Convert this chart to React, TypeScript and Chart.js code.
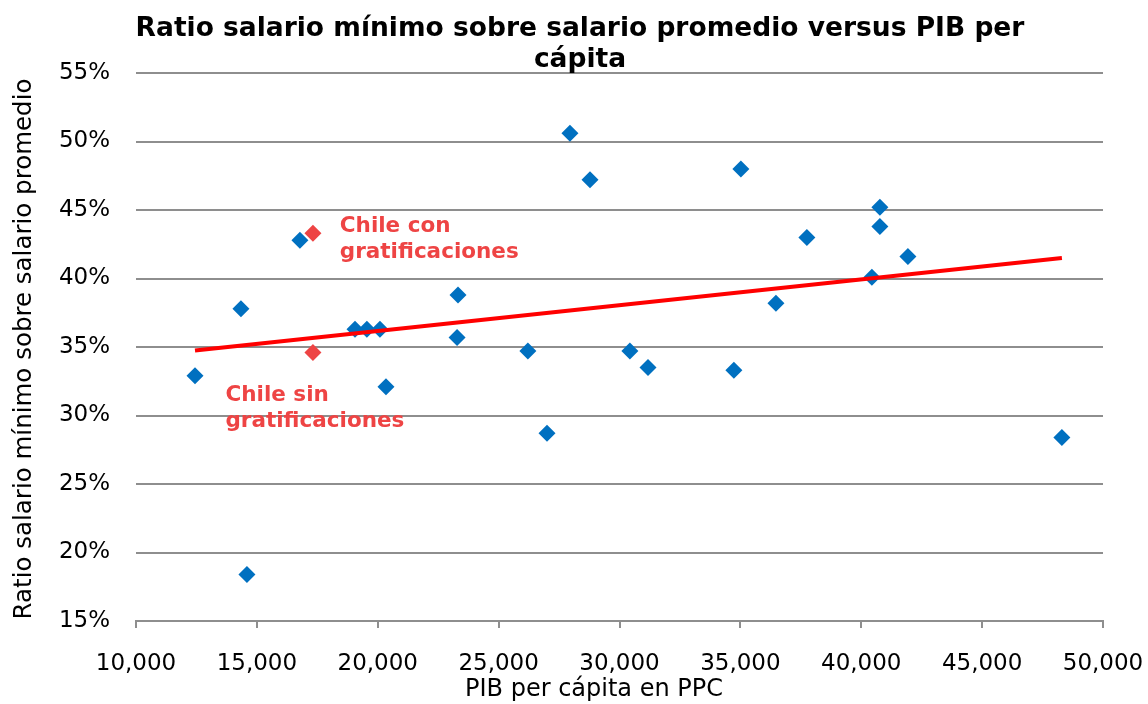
import React, { useEffect, useRef } from "react";
import { Chart, registerables } from "chart.js";

Chart.register(...registerables);

const titleLines = ["Ratio salario mínimo sobre salario promedio versus PIB per", "cápita"];
const xAxisTitle = "PIB per cápita en PPC";
const yAxisTitle = "Ratio salario mínimo sobre salario promedio";

// OECD countries: PIB per cápita (PPC) and ratio (%)
const countryGdp = [
  12440, 14340, 14590, 16780, 19060, 19550, 20090, 20340, 23320, 23280,
  26210, 27000, 27950, 28780, 30430, 31180, 34730, 35020, 36470, 37750,
  40440, 40770, 40770, 41930, 48300,
];
const countryRatio = [
  32.9, 37.8, 18.4, 42.8, 36.3, 36.3, 36.3, 32.1, 38.8, 35.7,
  34.7, 28.7, 50.6, 47.2, 34.7, 33.5, 33.3, 48.0, 38.2, 43.0,
  40.1, 45.2, 43.8, 41.6, 28.4,
];

// Chile
const chileGdp = [17320, 17320];
const chileRatio = [43.3, 34.6];
const chileLabels = [["Chile con", "gratificaciones"], ["Chile sin", "gratificaciones"]];
// label anchor (data coords) for each Chile annotation
const chileLabelGdp = [18430, 13700];
const chileLabelRatio = [43.8, 31.5];

// Trend line endpoints
const trendGdp = [12440, 48300];
const trendRatio = [34.75, 41.5];

const yTicks = [15, 20, 25, 30, 35, 40, 45, 50, 55];
const xTicks = [10000, 15000, 20000, 25000, 30000, 35000, 40000, 45000, 50000];

const BLUE = "#0070C0";
const RED_MARK = "#EE4444";
const RED_TEXT = "#EE4444";
const GRID = "#8E8E8E";
const FONT = "'DejaVu Sans', Verdana, sans-serif";

export default function App() {
  const ref = useRef<HTMLCanvasElement | null>(null);

  useEffect(() => {
    const canvas = ref.current!;
    const textPlugin = {
      id: "texts",
      afterDraw(chart: any) {
        const ctx = chart.ctx;
        const xs = chart.scales.x;
        const ys = chart.scales.y;
        ctx.save();
        // title
        ctx.fillStyle = "#000";
        ctx.font = `bold 26.5px ${FONT}`;
        ctx.textAlign = "center";
        ctx.textBaseline = "middle";
        ctx.fillText(titleLines[0], 580, 29);
        ctx.fillText(titleLines[1], 580, 60);
        // x axis title
        ctx.font = `24px ${FONT}`;
        ctx.fillText(xAxisTitle, 594, 690);
        // y axis title
        ctx.save();
        ctx.translate(25, 349);
        ctx.rotate(-Math.PI / 2);
        ctx.font = `24.5px ${FONT}`;
        ctx.fillText(yAxisTitle, 0, 0);
        ctx.restore();
        // Chile labels
        ctx.font = `bold 21.5px ${FONT}`;
        ctx.fillStyle = RED_TEXT;
        ctx.textAlign = "left";
        for (let i = 0; i < chileLabels.length; i++) {
          const px = xs.getPixelForValue(chileLabelGdp[i]);
          const py = ys.getPixelForValue(chileLabelRatio[i]);
          chileLabels[i].forEach((line, j) => ctx.fillText(line, px, py + j * 26));
        }
        ctx.restore();
      },
    };

    const chart = new Chart(canvas, {
      type: "scatter",
      data: {
        datasets: [
          {
            label: "Trend",
            type: "line",
            data: trendGdp.map((x, i) => ({ x, y: trendRatio[i] })),
            borderColor: "#FF0000",
            borderWidth: 4,
            pointRadius: 0,
            fill: false,
            order: 0,
          } as any,
          {
            label: "Chile",
            data: chileGdp.map((x, i) => ({ x, y: chileRatio[i] })),
            backgroundColor: RED_MARK,
            borderColor: RED_MARK,
            borderWidth: 0,
            pointStyle: "rectRot",
            pointRadius: 8.5,
            order: 1,
          },
          {
            label: "OCDE",
            data: countryGdp.map((x, i) => ({ x, y: countryRatio[i] })),
            backgroundColor: BLUE,
            borderColor: BLUE,
            borderWidth: 0,
            pointStyle: "rectRot",
            pointRadius: 8.5,
            order: 2,
          },
        ],
      },
      options: {
        animation: false,
        responsive: false,
        maintainAspectRatio: false,
        layout: { padding: { top: 73, left: 0, right: 45, bottom: 0 } },
        plugins: {
          legend: { display: false },
          title: { display: false },
          tooltip: { enabled: false },
        },
        scales: {
          x: {
            type: "linear",
            min: 10000,
            max: 50000,
            afterBuildTicks: (s: any) => {
              s.ticks = xTicks.map((v) => ({ value: v }));
            },
            afterFit: (s: any) => {
              s.height = 83;
              s.paddingLeft = 0;
              s.paddingRight = 0;
            },
            grid: {
              display: true,
              drawOnChartArea: false,
              drawTicks: true,
              tickLength: 7,
              color: GRID,
              lineWidth: 2,
            },
            border: { display: true, color: GRID, width: 2 },
            ticks: {
              font: { family: FONT, size: 23 },
              color: "#000",
              padding: 22,
              maxRotation: 0,
              autoSkip: false,
              callback: (v: any) => Number(v).toLocaleString("en-US"),
            },
          },
          y: {
            type: "linear",
            min: 15,
            max: 55,
            afterBuildTicks: (s: any) => {
              s.ticks = yTicks.map((v) => ({ value: v }));
            },
            afterFit: (s: any) => {
              s.width = 136;
              s.paddingTop = 0;
              s.paddingBottom = 0;
            },
            grid: { color: GRID, lineWidth: 2, drawTicks: false },
            border: { display: false },
            ticks: {
              font: { family: FONT, size: 23 },
              color: "#000",
              padding: 26,
              autoSkip: false,
              callback: (v: any) => `${v}%`,
            },
          },
        },
      },
      plugins: [textPlugin],
    });
    return () => chart.destroy();
  }, []);

  return (
    <div style={{ position: "fixed", left: 0, top: 0, width: 1148, height: 704, background: "#fff" }}>
      <canvas ref={ref} width={1148} height={704} style={{ width: 1148, height: 704 }} />
    </div>
  );
}
